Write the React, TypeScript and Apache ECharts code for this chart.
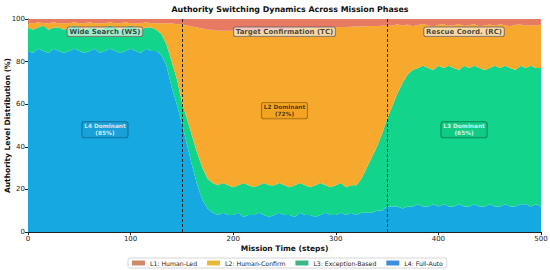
import React, { useEffect, useRef } from 'react';
import * as echarts from 'echarts';

// time axis: mission steps sampled every 5 steps (0..500)
const steps: string[] = Array.from({ length: 101 }, (_, i) => String(i * 5));

const seriesNames = ['L1: Human-Led', 'L2: Human-Confirm', 'L3: Exception-Based', 'L4: Full-Auto'];

const l4FullAuto = [
  85, 84, 86, 85, 84, 86, 85, 84, 85, 86, 85, 84, 85, 86, 84, 85, 86, 85, 84, 85,
  86, 85, 84, 86, 85, 85, 83, 78, 68, 60, 51, 41, 31, 22, 15, 11, 9, 8, 9, 8,
  8, 9, 7, 8, 8, 9, 8, 7, 8, 9, 8, 8, 7, 9, 8, 8, 7, 8, 9, 8,
  8, 9, 8, 9, 8, 9, 9, 9, 10, 10, 12, 12, 12, 11, 12, 12, 13, 12, 12, 13,
  12, 13, 12, 12, 13, 12, 12, 13, 12, 12, 13, 12, 12, 13, 12, 12, 13, 13, 12, 13,
  12,
];

const l3ExceptionBased = [
  11, 11, 10, 12, 11, 10, 11, 11, 11, 11, 11, 11, 11, 10, 11, 11, 11, 11, 11, 11,
  11, 11, 11, 10, 11, 10, 10, 10, 12, 12, 10, 12, 14, 15, 15, 14, 14, 14, 14, 14,
  13, 13, 16, 14, 13, 13, 15, 15, 14, 14, 14, 13, 15, 14, 14, 13, 15, 15, 13, 13,
  14, 14, 13, 13, 14, 16, 21, 26, 30, 36, 41, 47, 53, 59, 62, 64, 64, 66, 65, 63,
  66, 64, 66, 65, 63, 66, 65, 65, 65, 64, 64, 66, 65, 65, 65, 64, 65, 64, 66, 64,
  65,
];

const l2HumanConfirm = [
  2, 3, 2.5, 1, 3, 2.5, 2, 3, 2, 1.5, 2, 3, 2.5, 2, 3, 2, 1.5, 2, 3, 2.5,
  1, 2, 3, 2.5, 2, 3, 5, 10, 18, 25.5, 36.5, 44, 51.5, 59, 65.5, 70, 72, 72.5, 71.5, 72.5,
  73.5, 72.5, 71.5, 72.5, 73.5, 72.5, 71.5, 73, 73, 72, 73, 74.2, 73.4, 72.5, 73.6, 74.7, 73.8, 72.9, 74, 75,
  74.1, 73.2, 75.3, 74.4, 74.5, 71.5, 66.6, 61.7, 56.7, 50.8, 43.8, 38, 32.5, 26.8, 23.4, 20.6, 20.2, 19.6, 19.9, 20.5,
  19.3, 20.5, 18.8, 20.1, 21.6, 18.7, 20.2, 19.5, 19.6, 21, 20.4, 18.8, 20.5, 19.1, 19.6, 21.3, 19.4, 19.8, 19.2, 20,
  20.4,
];

const l1HumanLed = [
  2, 2, 1.5, 2, 2, 1.5, 2, 2, 2, 1.5, 2, 2, 1.5, 2, 2, 2, 1.5, 2, 2, 1.5,
  2, 2, 2, 1.5, 2, 2, 2, 2, 2, 2.5, 2.5, 3, 3.5, 4, 4.5, 5, 5, 5.5, 5.5, 5.5,
  5.5, 5.5, 5.5, 5.5, 5.5, 5.5, 5.5, 5, 5, 5, 5, 4.8, 4.6, 4.5, 4.4, 4.3, 4.2, 4.1, 4, 4,
  3.9, 3.8, 3.7, 3.6, 3.5, 3.5, 3.4, 3.3, 3.3, 3.2, 3.2, 3, 2.5, 3.2, 2.6, 3.4, 2.8, 2.4, 3.1, 3.5,
  2.7, 2.5, 3.2, 2.9, 2.4, 3.3, 2.8, 2.5, 3.4, 3.0, 2.6, 3.2, 2.5, 2.9, 3.4, 2.7, 2.6, 3.2, 2.8, 3.0,
  2.6,
];

const xTickLabels = ['0', '100', '200', '300', '400', '500'];
const phaseBoundaries = ['150', '350'];
const phaseLabels = ['Wide Search (WS)', 'Target Confirmation (TC)', 'Rescue Coord. (RC)'];
const phaseLabelX = ['75', '250', '425'];
const phaseLabelY = [94, 94, 94];
const dominantLabels = ['L4 Dominant\n(85%)', 'L2 Dominant\n(72%)', 'L3 Dominant\n(65%)'];
const dominantX = ['75', '250', '425'];
const dominantY = [48, 57, 48];

const FONT = 'DejaVu Sans';
const areaColors = ['#e77a63', '#f7a92d', '#12d48b', '#16a8e0'];
const legendColors = ['#cf8a6d', '#e6b83c', '#3fb487', '#3d8fdc'];
const dominantStyles = [
  { bg: '#1a9ed6', border: '#0f5f86', color: '#ffffff' },
  { bg: '#f2a21e', border: '#8a5a08', color: '#1a1a1a' },
  { bg: '#10c882', border: '#0a7048', color: '#ffffff' },
];

export default function App() {
  const ref = useRef<HTMLDivElement>(null);
  useEffect(() => {
    if (!ref.current) return;
    const chart = echarts.init(ref.current, null, { renderer: 'svg' });
    const valuesByName: Record<string, number[]> = {
      'L1: Human-Led': l1HumanLed,
      'L2: Human-Confirm': l2HumanConfirm,
      'L3: Exception-Based': l3ExceptionBased,
      'L4: Full-Auto': l4FullAuto,
    };
    // stack bottom-up: L4, L3, L2, L1
    const stackOrder = [3, 2, 1, 0];
    const areaSeries = stackOrder.map((k) => ({
      name: seriesNames[k],
      type: 'line',
      stack: 'total',
      data: valuesByName[seriesNames[k]],
      symbol: 'none',
      lineStyle: { width: 0 },
      areaStyle: { color: areaColors[k], opacity: 1 },
      itemStyle: { color: legendColors[k] },
      silent: true,
    }));

    const labelData = [
      ...phaseLabels.map((t, i) => ({
        value: [phaseLabelX[i], phaseLabelY[i]],
        label: {
          show: true,
          position: 'inside',
          formatter: t,
          fontFamily: FONT,
          fontSize: 7,
          fontWeight: 'bold',
          color: '#1a1a1a',
          backgroundColor: 'rgba(255,255,255,0.72)',
          borderColor: '#6a5a50',
          borderWidth: 0.8,
          borderRadius: 2,
          padding: [1, 2, 1, 2],
        },
      })),
      ...dominantLabels.map((t, i) => ({
        value: [dominantX[i], dominantY[i]],
        label: {
          show: true,
          position: 'inside',
          formatter: t,
          fontFamily: FONT,
          fontSize: 5.8,
          lineHeight: 6.8,
          fontWeight: 'bold',
          align: 'center',
          color: dominantStyles[i].color,
          backgroundColor: dominantStyles[i].bg,
          borderColor: dominantStyles[i].border,
          borderWidth: 0.8,
          borderRadius: 2,
          padding: [1, 2, 1, 2],
        },
      })),
    ];

    chart.setOption({
      animation: false,
      backgroundColor: '#ffffff',
      title: {
        text: 'Authority Switching Dynamics Across Mission Phases',
        left: 285,
        textAlign: 'center',
        top: 0,
        textStyle: { fontFamily: FONT, fontSize: 7.9, fontWeight: 'bold', color: '#111' },
      },
      grid: { left: 28, right: 9, top: 19, bottom: 38, containLabel: false, outerBoundsMode: 'none' },
      legend: {
        data: seriesNames,
        left: 128,
        bottom: 2,
        icon: 'rect',
        itemWidth: 13,
        itemHeight: 5,
        itemGap: 10,
        padding: [2, 4, 2, 4],
        borderColor: '#cccccc',
        borderWidth: 0.8,
        borderRadius: 2,
        textStyle: { fontFamily: FONT, fontSize: 6.2, color: '#222' },
      },
      xAxis: {
        type: 'category',
        data: steps,
        boundaryGap: false,
        name: 'Mission Time (steps)',
        nameLocation: 'middle',
        nameGap: 12,
        nameMoveOverlap: false,
        nameTextStyle: { fontFamily: FONT, fontSize: 7.5, fontWeight: 'bold', color: '#111' },
        axisLine: { show: true, lineStyle: { color: '#222', width: 1 } },
        axisTick: {
          show: true,
          length: 3,
          interval: (_i: number, v: string) => xTickLabels.includes(v),
          lineStyle: { color: '#222' },
        },
        axisLabel: {
          fontFamily: FONT,
          fontSize: 7,
          color: '#222',
          margin: 3,
          interval: (_i: number, v: string) => xTickLabels.includes(v),
        },
        splitLine: { show: false },
      },
      yAxis: {
        type: 'value',
        min: 0,
        max: 100,
        interval: 20,
        name: 'Authority Level Distribution (%)',
        nameLocation: 'middle',
        nameGap: 17,
        nameMoveOverlap: false,
        nameTextStyle: { fontFamily: FONT, fontSize: 7.5, fontWeight: 'bold', color: '#111' },
        axisLine: { show: true, lineStyle: { color: '#222', width: 1 } },
        axisTick: { show: true, length: 3, lineStyle: { color: '#222' } },
        axisLabel: { fontFamily: FONT, fontSize: 7, color: '#222', margin: 3 },
        splitLine: { show: false },
      },
      series: [
        ...areaSeries,
        {
          type: 'scatter',
          name: 'annotations',
          data: labelData,
          symbolSize: 0,
          z: 10,
          silent: true,
          markLine: {
            silent: true,
            symbol: 'none',
            label: { show: false },
            lineStyle: { color: '#222', type: [3, 2], width: 1 },
            data: phaseBoundaries.map((b) => ({ xAxis: b })),
          },
        },
      ],
    });
    return () => chart.dispose();
  }, []);
  return (
    <div
      ref={ref}
      style={{ position: 'fixed', left: 0, top: 0, width: 550, height: 270 }}
    />
  );
}
